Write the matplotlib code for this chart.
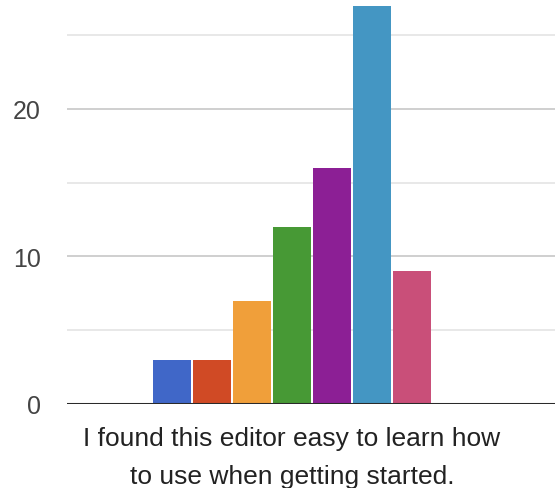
import matplotlib.pyplot as plt

# Responses per rating (1-7) for one survey statement
ratings = ["1", "2", "3", "4", "5", "6", "7"]
counts = [3, 3, 7, 12, 16, 27, 9]
bar_colors = ["#4067c8", "#d04a25", "#f09f3a", "#479935", "#8c1f95", "#4496c3", "#c94f79"]
question = "I found this editor easy to learn how\nto use when getting started."

plt.rcParams["font.family"] = ["Liberation Sans", "DejaVu Sans"]

fig = plt.figure(figsize=(5.55, 4.89), dpi=100)
ax = fig.add_axes([67 / 555, 84 / 489, 1 - 67 / 555, 405 / 489])

x = list(range(len(counts)))
ax.bar(x, counts, width=0.95, color=bar_colors, zorder=3)

ax.set_xlim(-2.625, 9.575)
ax.set_ylim(0, 27.45)

# grid: major every 10, minor every 5
ax.set_yticks([0, 10, 20])
ax.set_yticks([5, 15, 25], minor=True)
ax.yaxis.grid(True, which="major", color="#cccccc", lw=1.3, zorder=0)
ax.yaxis.grid(True, which="minor", color="#e6e6e6", lw=1.3, zorder=0)
ax.axhline(0, color="#2a2a2a", lw=2.2, zorder=4)

ax.set_xticks([3])
ax.set_xticklabels([question], fontsize=19, color="#222222", linespacing=1.75)
ax.tick_params(axis="x", length=0, pad=16)
ax.tick_params(axis="y", which="both", length=0, pad=19, labelsize=18, labelcolor="#444444")

for sp in ax.spines.values():
    sp.set_visible(False)

fig.savefig("out.png", dpi=100)
